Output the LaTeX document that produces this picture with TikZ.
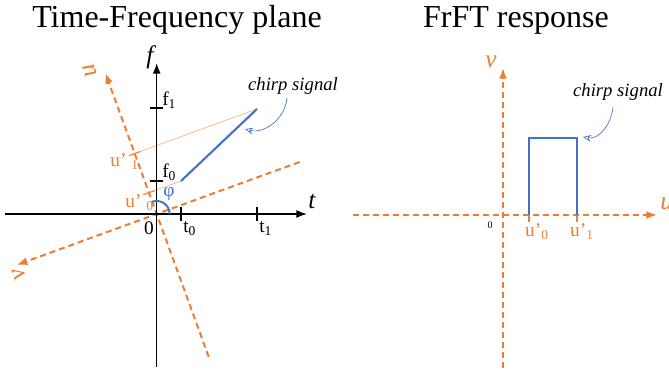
\documentclass[tikz,border=0pt]{standalone}
\usepackage{fontspec}
\setmainfont{Liberation Serif}
\usetikzlibrary{arrows.meta,calc}
\definecolor{ppOrange}{HTML}{ED7D31}
\definecolor{ppLight}{HTML}{F4B183}
\definecolor{ppBlue}{HTML}{4472C4}
\begin{document}
\begin{tikzpicture}[x=0.75pt,y=0.75pt,
  every node/.style={inner sep=0pt,font=\fontsize{14.5}{16}\selectfont},
  ax/.style={line width=1.1pt,-{Latex[length=8pt,width=6pt]}},
  oax/.style={ppOrange,line width=1.5pt,dash pattern=on 4.5pt off 3pt,-{Latex[length=8pt,width=6pt]}},
  tickmark/.style={line width=0.8pt},
  otickmark/.style={ppOrange,line width=0.8pt},
  chirp/.style={ppBlue,line width=1.6pt},
  proj/.style={ppLight,line width=0.5pt},
  axlbl/.style={ppOrange,font=\fontsize{19}{20}\selectfont\itshape},
  olbl/.style={ppOrange},
  note/.style={font=\fontsize{14}{16}\selectfont\itshape},
  pointer/.style={ppBlue,line width=0.5pt,-{Stealth[length=6pt,width=5pt,open]}}]

\useasboundingbox (0,0) rectangle (669,375);

% titles
\node[anchor=base,font=\fontsize{24}{26}\selectfont] (ttlTF) at (177,347) {Time-Frequency plane};
\node[anchor=base,font=\fontsize{24}{26}\selectfont] (ttlFr) at (516,347) {FrFT response};

% time-frequency plane
\coordinate (O) at (156.7,161);
\coordinate (tL) at (5,161);
\coordinate (tR) at (307,161);
\coordinate (fB) at (156.7,8);
\coordinate (fT) at (156.7,312);
\coordinate (uB) at ($(O)+(-70:152)$);
\coordinate (uT) at ($(O)+(110:150)$);
\coordinate (vR) at ($(O)+(20:152)$);
\coordinate (vL) at ($(O)+(200:149)$);
\coordinate (A) at (181,194);
\coordinate (B) at (257,266);
\coordinate (pA) at ($(O)!(A)!(uT)$);
\coordinate (pB) at ($(O)!(B)!(uT)$);

\draw[proj] (pA) -- (A);
\draw[proj] (pB) -- (B);
\draw[oax] (uB) -- (uT);
\draw[oax] (vR) -- (vL);
\draw[ax] (tL) -- (tR);
\draw[ax] (fB) -- (fT);

\draw[tickmark] (181,154) -- (181,168);
\draw[tickmark] (257,154) -- (257,168);
\draw[tickmark] (150,194) -- (163,194);
\draw[tickmark] (150,267) -- (163,267);
\draw[otickmark] (pA) ++(20:6) -- ++(200:12);
\draw[otickmark] (pB) ++(20:6) -- ++(200:12);

\draw[chirp] (A) -- (B);
\draw[ppBlue,line width=1.5pt] ($(O)+(13,0)$) arc[start angle=0,end angle=110,radius=13];

\node[anchor=east] (zero) at (154,147) {0};
\node[anchor=west] (t0) at (183,146) {t\textsubscript{0}};
\node[anchor=west] (t1) at (259,146) {t\textsubscript{1}};
\node[anchor=west] (f0) at (162,203) {f\textsubscript{0}};
\node[anchor=west] (f1) at (162,275) {f\textsubscript{1}};
\node[font=\fontsize{19}{20}\selectfont\itshape] (flbl) at (150,318) {f};
\node[font=\fontsize{19}{20}\selectfont\itshape] (tlbl) at (312,174) {t};
\node[ppBlue] (phi) at (169,181) {φ};
\node[axlbl,rotate=110] (ulbl) at (90,305) {u};
\node[axlbl,rotate=110] (vlbl) at (19,101) {v};
\node[olbl,anchor=east] (u1lbl) at (139,213) {u’ \textsubscript{1}};
\node[olbl,anchor=east] (u0lbl) at (154,172) {u’ \textsubscript{0}};

\node[note] (chirpTF) at (293,289) {chirp signal};
\draw[pointer] (287,277) to[out=-95,in=-15] (245,246);

% FrFT response
\coordinate (O2) at (503,160);
\coordinate (uL2) at (353,160);
\coordinate (uR2) at (657,160);
\coordinate (vB2) at (503,7);
\coordinate (vT2) at (503,307);
\coordinate (r0) at (529,160);
\coordinate (r1) at (577,160);

\draw[oax] (uL2) -- (uR2);
\draw[oax] (vB2) -- (vT2);
\draw[otickmark] ($(r0)+(0,-7)$) -- ($(r0)+(0,7)$);
\draw[otickmark] ($(r1)+(0,-7)$) -- ($(r1)+(0,7)$);
\draw[chirp] (r0) -- ++(0,77) -| (r1);

\node[font=\fontsize{7.5}{8}\selectfont] (zero2) at (490,150) {0};
\node[olbl] (u0r) at (537,143) {u’\textsubscript{0}};
\node[olbl] (u1r) at (582,143) {u’\textsubscript{1}};
\node[axlbl] (vlbl2) at (491,313) {v};
\node[axlbl,anchor=west] (ulbl2) at (660,171) {u};

\node[note] (chirpFr) at (618,283) {chirp signal};
\draw[pointer] (613,268) to[out=-95,in=-10] (583,238);

\end{tikzpicture}
\end{document}
